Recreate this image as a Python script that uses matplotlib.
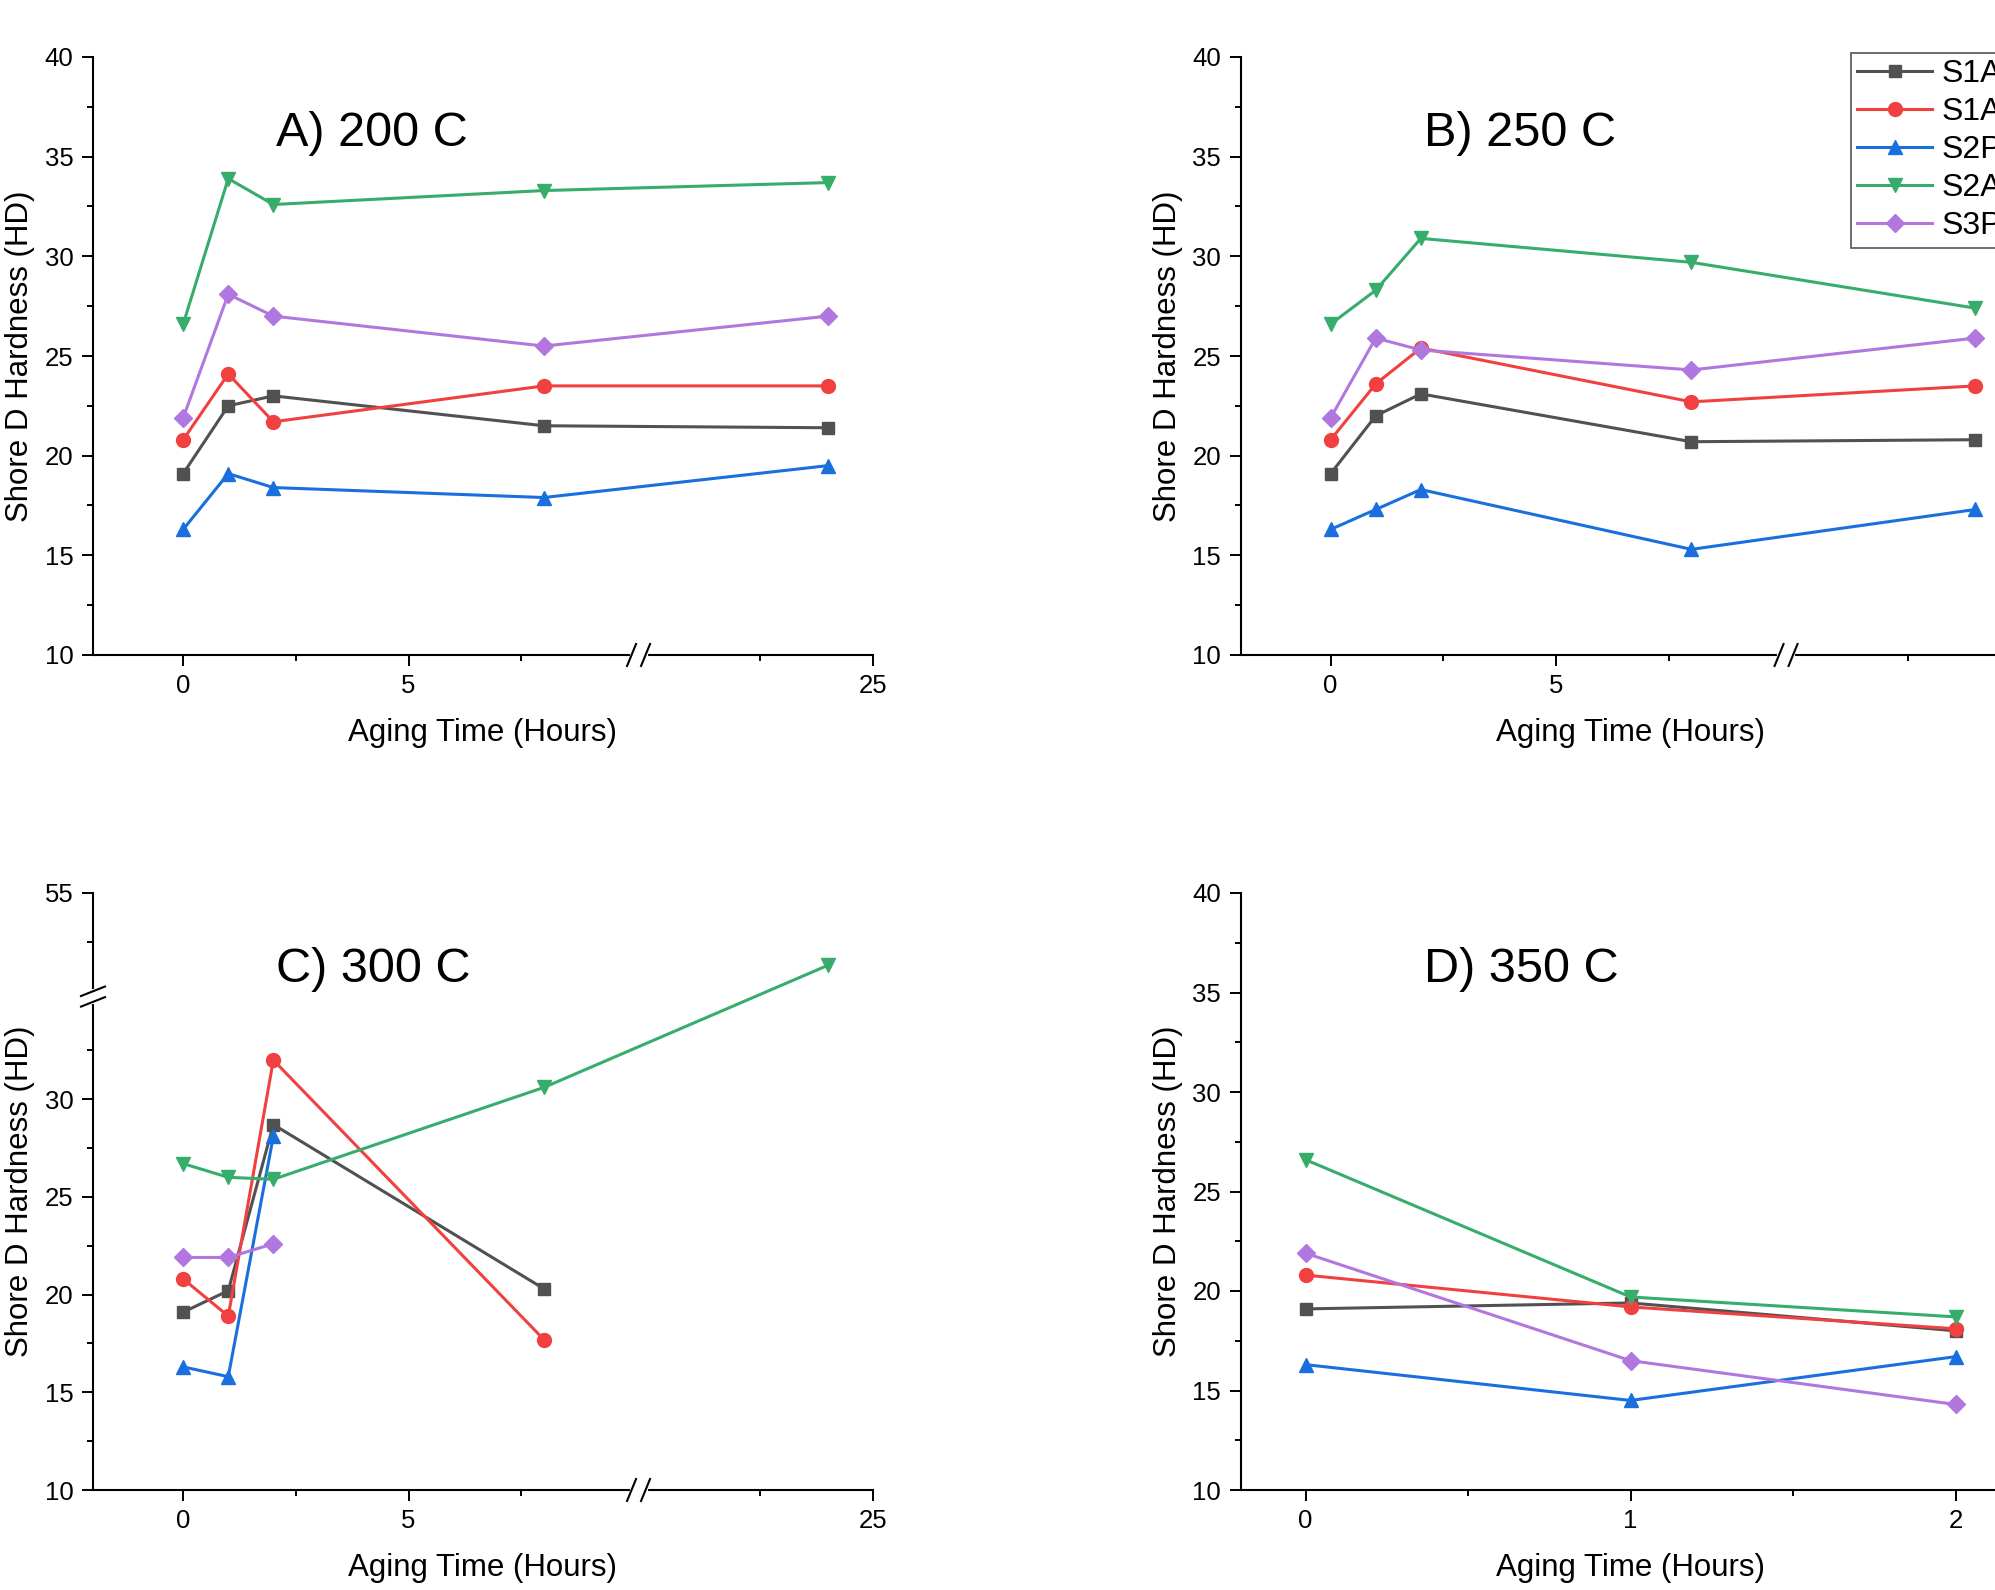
import numpy as np
import matplotlib.pyplot as plt
from matplotlib.lines import Line2D
from matplotlib.ticker import FixedLocator

plt.rcParams['font.family'] = ['Liberation Sans', 'DejaVu Sans']

# ---------- data ----------
series = ['S1A', 'S1A', 'S2P', 'S2A', 'S3P']
colors = ['#515151', '#F14040', '#1A6FDF', '#37AD6B', '#B177DE']
markers = ['s', 'o', '^', 'v', 'D']
msizes = [9, 10, 10, 10, 9]

time_long = [0, 1, 2, 8, 24]
time_short = [0, 1, 2]

# rows follow `series`
hd_200 = [
    [19.1, 22.5, 23.0, 21.5, 21.4],
    [20.8, 24.1, 21.7, 23.5, 23.5],
    [16.3, 19.1, 18.4, 17.9, 19.5],
    [26.6, 33.9, 32.6, 33.3, 33.7],
    [21.9, 28.1, 27.0, 25.5, 27.0],
]
hd_250 = [
    [19.1, 22.0, 23.1, 20.7, 20.8],
    [20.8, 23.6, 25.4, 22.7, 23.5],
    [16.3, 17.3, 18.3, 15.3, 17.3],
    [26.6, 28.3, 30.9, 29.7, 27.4],
    [21.9, 25.9, 25.3, 24.3, 25.9],
]
hd_300 = [
    [19.1, 20.2, 28.7, 20.3],
    [20.8, 18.9, 32.0, 17.7],
    [16.3, 15.8, 28.1],
    [26.7, 26.0, 25.9, 30.6, 51.3],
    [21.9, 21.9, 22.6],
]
hd_350 = [
    [19.1, 19.4, 18.0],
    [20.8, 19.2, 18.1],
    [16.3, 14.5, 16.7],
    [26.6, 19.7, 18.7],
    [21.9, 16.5, 14.3],
]

W, H = 1995, 1590
fig = plt.figure(figsize=(W / 100, H / 100), dpi=100)

# axis break settings (value where break starts, amount skipped)
XB_LO, XB_OFF = 10.1, 9.7
YB_LO, YB_OFF = 35.25, 14.45


def break_scale(lo, off):
    fwd = lambda v: np.where(np.asarray(v) > lo, np.asarray(v) - off, v)
    inv = lambda v: np.where(np.asarray(v) > lo, np.asarray(v) + off, v)
    return fwd, inv


def add_axes(left_px, top_px, w_px=780, h_px=597):
    return fig.add_axes([left_px / W, 1 - (top_px + h_px) / H, w_px / W, h_px / H])


def style(ax, title):
    for s in ('top', 'right'):
        ax.spines[s].set_visible(False)
    for s in ('left', 'bottom'):
        ax.spines[s].set_linewidth(1.5)
    ax.tick_params(which='major', direction='out', length=8, width=1.4,
                   labelsize=18.5, pad=6)
    ax.tick_params(which='minor', direction='out', length=4.5, width=1.4)
    ax.set_xlabel('Aging Time (Hours)', fontsize=22.5, labelpad=14)
    ax.set_ylabel('Shore D Hardness (HD)', fontsize=22.5, labelpad=7)
    ax.text(0.235, 0.872, title, transform=ax.transAxes, fontsize=35,
            va='center', ha='left')


def plot_series(ax, times, values):
    for vals, c, m, ms in zip(values, colors, markers, msizes):
        ax.plot(times[:len(vals)], vals, color=c, marker=m, markersize=ms,
                linewidth=2.2, clip_on=False, zorder=3)


def x_broken(ax):
    ax.set_xscale('function', functions=break_scale(XB_LO, XB_OFF))
    ax.set_xlim(-2, 25)
    ax.xaxis.set_major_locator(FixedLocator([0, 5, 25]))
    ax.xaxis.set_minor_locator(FixedLocator([2.5, 7.5, 22.5]))
    frac = (XB_LO + 2) / (25 - XB_OFF + 2)
    bb = ax.get_position()
    wpx, hpx = bb.width * W, bb.height * H
    dx, dy, gap = 4.5 / wpx, 11 / hpx, 7 / wpx
    ax.plot([frac - gap, frac + gap], [0, 0], color='white', lw=3,
            transform=ax.transAxes, clip_on=False, zorder=5)
    for cx in (frac - gap, frac + gap):
        ax.plot([cx - dx, cx + dx], [-dy, dy], color='black', lw=1.5,
                transform=ax.transAxes, clip_on=False, zorder=6)


def y_broken(ax):
    ax.set_yscale('function', functions=break_scale(YB_LO, YB_OFF))
    ax.set_ylim(10, 55)
    ax.yaxis.set_major_locator(FixedLocator([10, 15, 20, 25, 30, 55]))
    ax.yaxis.set_minor_locator(FixedLocator([12.5, 17.5, 22.5, 27.5, 32.5, 52.5]))
    frac = (YB_LO - 10) / (55 - YB_OFF - 10)
    bb = ax.get_position()
    wpx, hpx = bb.width * W, bb.height * H
    dx, dy, gap = 12 / wpx, 4.75 / hpx, 5.3 / hpx
    ax.plot([0, 0], [frac - gap, frac + gap], color='white', lw=3,
            transform=ax.transAxes, clip_on=False, zorder=5)
    for cy in (frac - gap, frac + gap):
        ax.plot([-dx, dx], [cy - dy, cy + dy], color='black', lw=1.5,
                transform=ax.transAxes, clip_on=False, zorder=6)


def y_normal(ax):
    ax.set_ylim(10, 40)
    ax.yaxis.set_major_locator(FixedLocator(np.arange(10, 41, 5)))
    ax.yaxis.set_minor_locator(FixedLocator(np.arange(12.5, 40, 5)))


# A) 200 C
axA = add_axes(93, 57, h_px=598)
plot_series(axA, time_long, hd_200)
x_broken(axA)
y_normal(axA)
style(axA, 'A) 200 C')

# B) 250 C  (right part runs past the figure edge, as in the original)
axB = add_axes(1240.5, 57, h_px=598)
plot_series(axB, time_long, hd_250)
x_broken(axB)
axB.xaxis.set_major_locator(FixedLocator([0, 5]))
y_normal(axB)
style(axB, 'B) 250 C')

# C) 300 C
axC = add_axes(93, 893)
plot_series(axC, time_long, hd_300)
x_broken(axC)
y_broken(axC)
style(axC, 'C) 300 C')

# D) 350 C
axD = add_axes(1240.5, 893)
plot_series(axD, time_short, hd_350)
axD.set_xlim(-0.2, 2.2)
axD.xaxis.set_major_locator(FixedLocator([0, 1, 2]))
axD.xaxis.set_minor_locator(FixedLocator([0.5, 1.5]))
y_normal(axD)
style(axD, 'D) 350 C')

# legend (runs off the right edge like the original)
handles = [Line2D([], [], color=c, marker=m, markersize=ms, linewidth=2.2)
           for c, m, ms in zip(colors, markers, msizes)]
leg = fig.legend(handles, series, loc='upper left', mode='expand',
                 bbox_to_anchor=(1851 / W, 1 - 53 / H, 0.2, 0.0),
                 fontsize=23, handlelength=2.35, handletextpad=0.28,
                 borderpad=0.2, labelspacing=0.25, borderaxespad=0,
                 fancybox=False, edgecolor='#555555', framealpha=1)
leg.get_frame().set_linewidth(1.2)

fig.savefig('out.png', dpi=100)
